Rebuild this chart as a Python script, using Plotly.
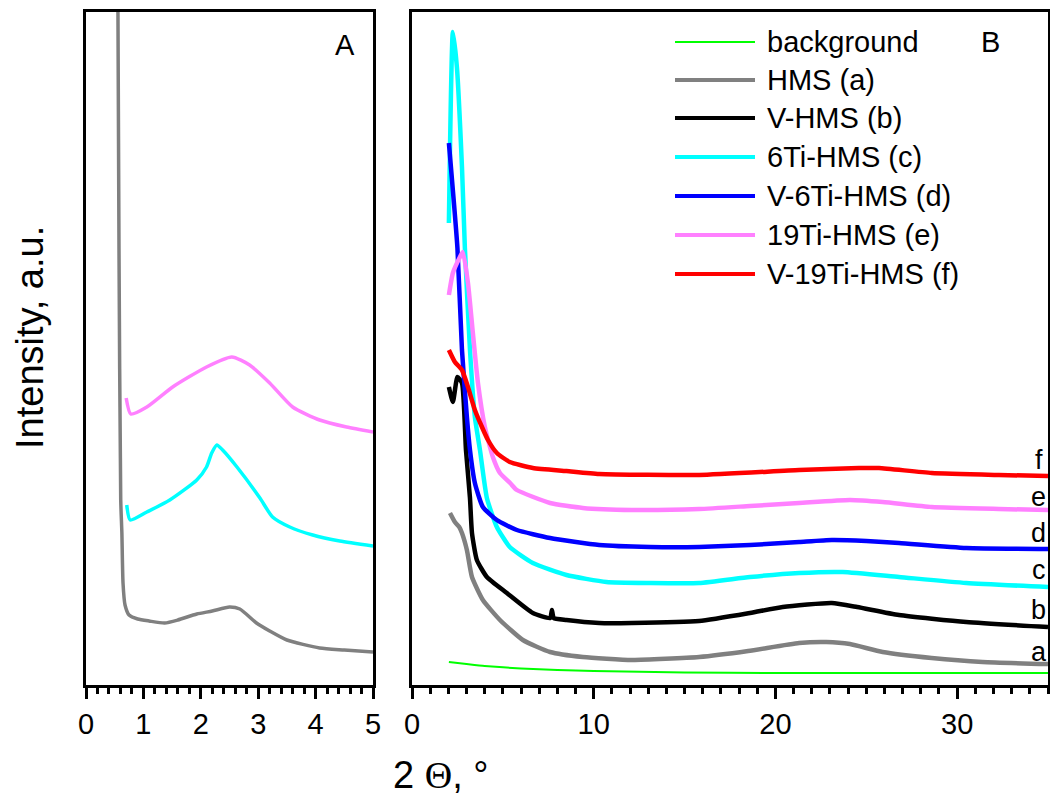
import plotly.graph_objects as go

# ---------------- Panel A (low angle) ----------------
a_hms_x = [0.55, 0.575, 0.605, 0.625, 0.645, 0.68, 0.75, 0.9, 1.1, 1.37, 1.6, 1.93, 2.2, 2.5, 2.68, 2.97, 3.2, 3.5, 4.07, 4.5, 5.0]
a_hms_y = [760, 435, 185, 152, 102, 80, 70, 66, 64, 62, 65, 71, 74, 78, 76, 62, 54, 45, 37, 35, 33]

a_6ti_x = [0.71, 0.77, 1.06, 1.46, 1.93, 2.10, 2.19, 2.28, 2.38, 2.63, 3.03, 3.25, 3.55, 3.95, 4.42, 5.0]
a_6ti_y = [180, 165, 173, 185, 205, 218, 232, 240, 235, 218, 187, 168, 158, 150, 144, 139]

a_19ti_x = [0.70, 0.78, 1.06, 1.51, 2.10, 2.54, 2.85, 3.2, 3.6, 4.07, 4.54, 5.0]
a_19ti_y = [287, 271, 278, 298, 318, 328, 320, 302, 278, 265, 258, 253]

# ---------------- Panel B (wide angle) ----------------
bg_x = [2.03, 3, 4, 6, 8, 10, 15, 20, 25, 30, 35]
bg_y = [23, 21, 19, 16.5, 15, 14, 12.5, 12, 12, 12, 12]

hms_x = [2.09, 2.36, 2.6, 2.75, 3.02, 3.30, 3.9, 4.84, 6.1, 7.6, 9.4, 12.1, 15.8, 18.5, 21.3, 22.8, 24.1, 25.9, 28.6, 31.4, 35]
hms_y = [172, 163, 158, 152, 135, 108, 85, 65, 45, 33, 28, 25, 28, 34, 42, 43, 41, 33, 27, 23, 21]

vhms_x = [2.03, 2.25, 2.5, 2.75, 2.97, 3.19, 3.30, 3.57, 4.12, 5.22, 6.65, 7.6, 7.7, 7.8, 8.5, 10.3, 12.1, 15.8, 18.6, 20.4, 23.1, 24.5, 26.8, 30.5, 35]
vhms_y = [298, 283, 308, 302, 235, 187, 152, 125, 108, 92, 72, 67, 75, 67, 65, 62, 62, 64, 72, 78, 82, 78, 70, 63, 58]

ti6_x = [2.03, 2.25, 2.47, 2.75, 2.91, 3.19, 3.46, 3.74, 4.12, 4.67, 5.38, 6.65, 8.5, 10.7, 13.1, 15.8, 18.6, 21.3, 23.7, 26.8, 30.5, 35]
ti6_y = [462, 653, 618, 518, 437, 335, 268, 235, 187, 158, 138, 122, 110, 103, 102, 102, 108, 112, 113, 108, 102, 98]

vti6_x = [2.03, 2.5, 2.75, 3.02, 3.19, 3.46, 3.9, 4.67, 5.77, 7.6, 10.3, 13.1, 15.8, 18.6, 21.3, 23.1, 25.0, 26.8, 30.5, 35]
vti6_y = [542, 437, 335, 268, 235, 202, 178, 165, 155, 147, 140, 138, 138, 140, 143, 145, 144, 142, 137, 136]

ti19_x = [2.03, 2.25, 2.64, 2.8, 3.08, 3.35, 3.63, 4.01, 4.45, 4.84, 5.4, 5.77, 7.6, 9.4, 12.1, 15.8, 18.6, 21.3, 24.1, 25.9, 28.6, 32.3, 35]
ti19_y = [390, 412, 428, 433, 402, 352, 302, 258, 228, 212, 202, 195, 182, 177, 175, 176, 179, 182, 185, 183, 178, 176, 175]

vti19_x = [2.03, 2.36, 2.75, 3.08, 3.46, 3.85, 4.18, 4.67, 5.38, 6.65, 8.5, 10.3, 15.8, 21.3, 24.6, 25.7, 28.6, 32.3, 35]
vti19_y = [335, 323, 315, 298, 275, 258, 245, 232, 223, 217, 214, 211, 210, 215, 217, 217, 212, 210, 209]

series_names = ["background", "HMS (a)", "V-HMS (b)", "6Ti-HMS (c)", "V-6Ti-HMS (d)", "19Ti-HMS (e)", "V-19Ti-HMS (f)"]
series_colors = ["#00ff00", "#808080", "#000000", "#00ffff", "#0000ff", "#ff80ff", "#ff0000"]
curve_letters = ["a", "b", "c", "d", "e", "f"]
letter_y = [33, 75, 115, 152, 188, 225]

x_ticks_a = [0, 1, 2, 3, 4, 5]
x_ticks_b = [0, 10, 20, 30]

FONT = "Liberation Sans, Arial, sans-serif"

fig = go.Figure()

# Panel A
for xx, yy, ci in [(a_hms_x, a_hms_y, 1), (a_6ti_x, a_6ti_y, 3), (a_19ti_x, a_19ti_y, 5)]:
    fig.add_trace(go.Scatter(x=xx, y=yy, mode="lines",
                             line=dict(color=series_colors[ci], width=3.5, shape="spline", smoothing=0.6),
                             xaxis="x", yaxis="y", showlegend=False))

# Panel B
b_data = [(bg_x, bg_y), (hms_x, hms_y), (vhms_x, vhms_y), (ti6_x, ti6_y),
          (vti6_x, vti6_y), (ti19_x, ti19_y), (vti19_x, vti19_y)]
for i, (xx, yy) in enumerate(b_data):
    fig.add_trace(go.Scatter(x=xx, y=yy, mode="lines", name=series_names[i],
                             line=dict(color=series_colors[i], width=2 if i == 0 else 4.5,
                                       shape="spline", smoothing=0.5),
                             xaxis="x2", yaxis="y2", showlegend=False))

ydom = [1 - 685 / 799, 1 - 12 / 799]
axis_common = dict(showline=True, linecolor="black", linewidth=3, mirror=True,
                   ticks="outside", ticklen=11, tickwidth=2.5, tickcolor="black",
                   showgrid=False, zeroline=False, automargin=False,
                   tickfont=dict(family=FONT, size=29, color="black"))
yaxis_common = dict(domain=ydom, range=[0, 673], showticklabels=False, ticks="",
                    showline=True, linecolor="black", linewidth=3, mirror=True,
                    showgrid=False, zeroline=False, automargin=False)

fig.update_layout(
    template="none",
    width=1050, height=799,
    margin=dict(l=0, r=0, t=0, b=0, pad=0, autoexpand=False),
    paper_bgcolor="white", plot_bgcolor="white",
    showlegend=False,
    xaxis=dict(domain=[86 / 1050, 373 / 1050], range=[0, 5], tickvals=x_ticks_a,
               minor=dict(dtick=0.2, ticks="outside", ticklen=6, tickwidth=2.5, tickcolor="black"),
               anchor="y", **axis_common),
    yaxis=dict(anchor="x", **yaxis_common),
    xaxis2=dict(domain=[412 / 1050, 1048 / 1050], range=[0, 35], tickvals=x_ticks_b,
                minor=dict(dtick=1, ticks="outside", ticklen=6, tickwidth=2.5, tickcolor="black"),
                anchor="y2", **axis_common),
    yaxis2=dict(anchor="x2", **yaxis_common),
)

ann = []
ann.append(dict(text="A", x=345 / 1050, y=1 - 45 / 799, xref="paper", yref="paper",
                showarrow=False, font=dict(family=FONT, size=29, color="black"),
                xanchor="center", yanchor="middle"))
ann.append(dict(text="B", x=990 / 1050, y=1 - 42 / 799, xref="paper", yref="paper",
                showarrow=False, font=dict(family=FONT, size=29, color="black"),
                xanchor="center", yanchor="middle"))
for lt, ly in zip(curve_letters, letter_y):
    ann.append(dict(text=lt, x=34.5, y=ly, xref="x2", yref="y2", showarrow=False,
                    font=dict(family=FONT, size=27, color="black"),
                    xanchor="center", yanchor="middle"))
ann.append(dict(text="Intensity, a.u.", x=30 / 1050, y=1 - 338 / 799, xref="paper", yref="paper",
                showarrow=False, textangle=-90, font=dict(family=FONT, size=38, color="black"),
                xanchor="center", yanchor="middle"))
ann.append(dict(text='2 <span style="font-family:Liberation Serif, Times New Roman, serif">Θ</span>, °',
                x=440 / 1050, y=1 - 775 / 799, xref="paper", yref="paper",
                showarrow=False, font=dict(family=FONT, size=38, color="black"),
                xanchor="center", yanchor="middle"))

leg_rows = [42, 80, 118, 157, 196, 235, 274]
shapes = []
for i, ry in enumerate(leg_rows):
    shapes.append(dict(type="line", xref="paper", yref="paper",
                       x0=675 / 1050, x1=755 / 1050, y0=1 - ry / 799, y1=1 - ry / 799,
                       line=dict(color=series_colors[i], width=2 if i == 0 else 4)))
    ann.append(dict(text=series_names[i], x=765 / 1050, y=1 - ry / 799, xref="paper", yref="paper",
                    showarrow=False, font=dict(family=FONT, size=29, color="black"),
                    xanchor="left", yanchor="middle"))

fig.update_layout(annotations=ann, shapes=shapes)

fig.write_html("out.html")
